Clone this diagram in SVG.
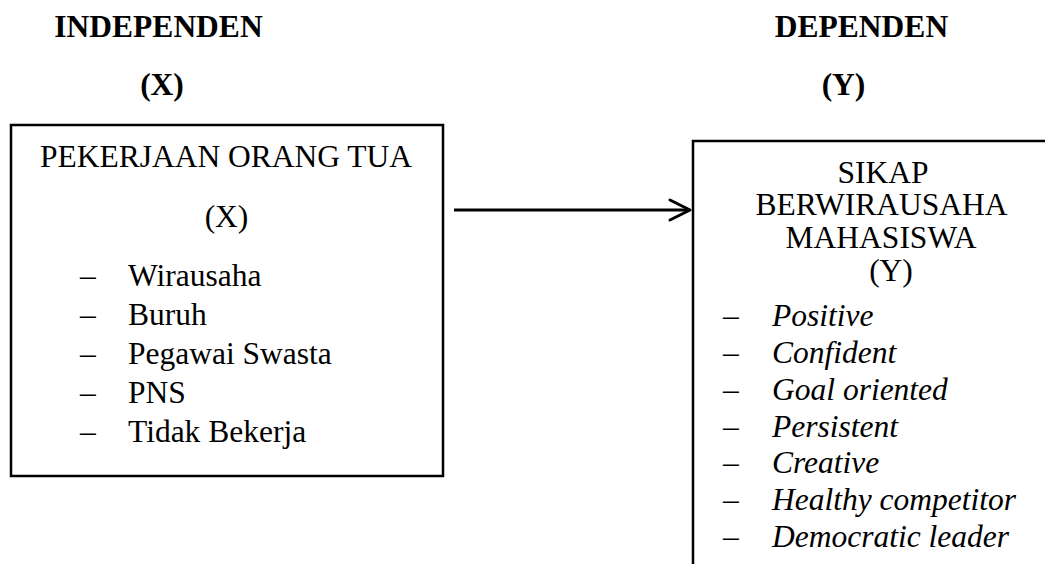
<svg xmlns="http://www.w3.org/2000/svg" width="1045" height="564" viewBox="0 0 1045 564">
  <defs>
    <style>
      .t { font-family: "Liberation Serif", "Times New Roman", serif; font-size: 31.5px; fill: #000; }
      .h { font-weight: bold; }
      .i { font-style: italic; }
      .c { text-anchor: middle; }
      .box { fill: #fff; stroke: #000; stroke-width: 2.5; }
    </style>
    <marker id="chev" markerUnits="userSpaceOnUse" markerWidth="26" markerHeight="26" viewBox="-23 -13 26 26" refX="0" refY="0" orient="auto">
      <path d="M-20,-10 L0,0 L-20,10" fill="none" stroke="#000" stroke-width="3" stroke-linecap="round" stroke-linejoin="round"/>
    </marker>
  </defs>
  <rect width="1045" height="564" fill="#fff"/>

  <g id="heading-x">
    <text class="t h c" x="158.5" y="37">INDEPENDEN</text>
    <text class="t h c" x="162" y="95">(X)</text>
  </g>
  <g id="heading-y">
    <text class="t h c" x="861.5" y="37">DEPENDEN</text>
    <text class="t h c" x="843.5" y="95">(Y)</text>
  </g>

  <g id="node-x">
    <rect class="box" x="11" y="125" width="432" height="351"/>
    <text class="t c" x="226" y="167">PEKERJAAN ORANG TUA</text>
    <text class="t c" x="226.5" y="227">(X)</text>
    <g class="t">
      <text x="80" y="286">–</text><text x="128" y="286">Wirausaha</text>
      <text x="80" y="325">–</text><text x="128" y="325">Buruh</text>
      <text x="80" y="364">–</text><text x="128" y="364">Pegawai Swasta</text>
      <text x="80" y="403">–</text><text x="128" y="403">PNS</text>
      <text x="80" y="442">–</text><text x="128" y="442">Tidak Bekerja</text>
    </g>
  </g>

  <g id="node-y">
    <rect class="box" x="693" y="141" width="400" height="460"/>
    <text class="t c" x="883" y="183">SIKAP</text>
    <text class="t c" x="881.5" y="215">BERWIRAUSAHA</text>
    <text class="t c" x="881" y="248">MAHASISWA</text>
    <text class="t c" x="891" y="281">(Y)</text>
    <g class="t">
      <text x="723" y="326">–</text><text class="i" x="772" y="326">Positive</text>
      <text x="723" y="363">–</text><text class="i" x="772" y="363">Confident</text>
      <text x="723" y="400">–</text><text class="i" x="772" y="400">Goal oriented</text>
      <text x="723" y="437">–</text><text class="i" x="772" y="437">Persistent</text>
      <text x="723" y="473">–</text><text class="i" x="772" y="473">Creative</text>
      <text x="723" y="510">–</text><text class="i" x="772" y="510">Healthy competitor</text>
      <text x="723" y="547">–</text><text class="i" x="772" y="547">Democratic leader</text>
    </g>
  </g>

  <g id="connectors">
    <line x1="454" y1="210" x2="690" y2="210" stroke="#000" stroke-width="3" marker-end="url(#chev)"/>
  </g>
</svg>
